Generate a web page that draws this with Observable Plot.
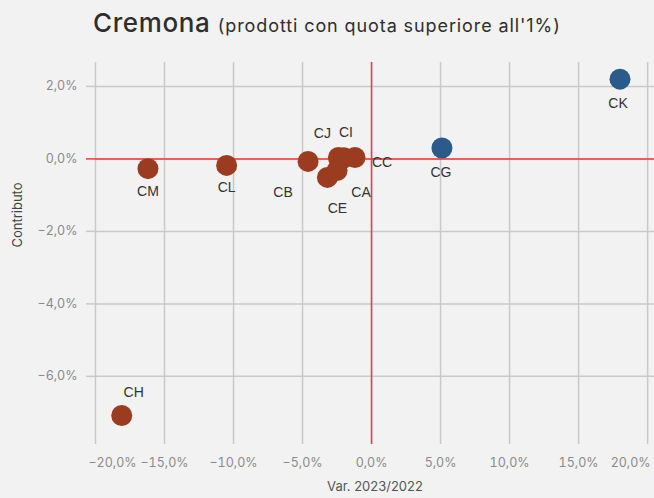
<!DOCTYPE html>
<html>
<head>
<meta charset="utf-8">
<script src="https://cdn.jsdelivr.net/npm/d3@7"></script>
<script src="https://cdn.jsdelivr.net/npm/@observablehq/plot@0.6"></script>
<style>
  html, body { margin: 0; padding: 0; background: #f2f2f2; }
  #wrap { width: 654px; height: 498px; overflow: hidden; background: #f2f2f2; }
  #title { height: 50px; box-sizing: border-box; padding: 7px 0 0 93px; font-family: Inter, "Noto Sans", sans-serif; color: #2e2e2e; white-space: nowrap; }
  #title .main { font-size: 26px; font-weight: 500; letter-spacing: 0.6px; }
  #title .sub { font-size: 18px; font-weight: 400; letter-spacing: 0.9px; margin-left: 3px; }
  svg { display: block; }
</style>
</head>
<body>
<div id="wrap">
  <div id="title"><span class="main">Cremona</span> <span class="sub">(prodotti con quota superiore all'1%)</span></div>
  <div id="chart"></div>
</div>
<script>
// Data (percent units)
const labels = ["CK", "CG", "CM", "CL", "CH", "CB", "CJ", "CI", "CC", "CA", "CE"];
const variazione = [18.0, 5.1, -16.2, -10.5, -18.1, -4.6, -2.4, -2.0, -1.2, -2.5, -3.2];
const contributo = [2.2, 0.3, -0.27, -0.18, -7.08, -0.07, 0.04, 0.03, 0.04, -0.32, -0.51];
const xTicks = [-20, -15, -10, -5, 0, 5, 10, 15, 20];
const yTicks = [-6, -4, -2, 0, 2];

// label placement (pixel offsets), layout only
const labelOffset = {
  CK: [-2, 24], CG: [-1, 24], CM: [0, 23], CL: [0, 22], CH: [12, -23],
  CB: [-25, 31], CJ: [-16, -24], CI: [2, -25], CC: [27, 5], CA: [24, 22], CE: [10, 31]
};

const data = labels.map((l, i) => ({label: l, x: variazione[i], y: contributo[i]}));
const fmt = d => (d < 0 ? "−" : "") + Math.abs(d).toFixed(1).replace(".", ",") + "%";
const brown = "#9b3c20", blue = "#2a5b8b";
const grid = "#c9c9c9", red = "#ff3535", tickText = "#8a8a8a";
const tickFont = "Inter, 'Noto Sans', sans-serif";

const chart = Plot.plot({
  width: 654,
  height: 448,
  marginLeft: 95,
  marginRight: 0,
  marginTop: 12,
  marginBottom: 54,
  style: {background: "#f2f2f2", fontFamily: tickFont},
  x: {domain: [-20, 20.5]},
  y: {domain: [-7.88, 2.66]},
  marks: [
    Plot.gridX(xTicks, {stroke: grid, strokeOpacity: 1, strokeWidth: 1.5}),
    Plot.gridY(yTicks, {stroke: grid, strokeOpacity: 1, strokeWidth: 1.5}),
    Plot.axisY(yTicks.filter(d => d !== 0), {tickSize: 9, tickPadding: 9, tickFormat: fmt, stroke: grid, strokeWidth: 1.5, fill: tickText, fontSize: 12.5, label: null}),
    Plot.axisY([0], {tickSize: 9, tickPadding: 9, tickFormat: fmt, stroke: red, strokeWidth: 1.5, fill: tickText, fontSize: 12.5, label: null}),
    Plot.axisX(xTicks.slice(1, -1), {tickSize: 0, tickPadding: 14, tickFormat: fmt, fill: tickText, fontSize: 12.5, label: null}),
    Plot.axisX([xTicks[0]], {tickSize: 0, tickPadding: 14, tickFormat: fmt, fill: tickText, fontSize: 12.5, textAnchor: "start", dx: -7, label: null}),
    Plot.axisX([xTicks[xTicks.length - 1]], {tickSize: 0, tickPadding: 14, tickFormat: fmt, fill: tickText, fontSize: 12.5, textAnchor: "end", dx: 3, label: null}),
    Plot.ruleX([0], {stroke: red, strokeWidth: 1.5}),
    Plot.ruleY([0], {stroke: red, strokeWidth: 1.5}),
    Plot.text(["Contributo"], {frameAnchor: "left", rotate: -90, dx: -78, dy: -6, fill: "#444", fontSize: 13}),
    Plot.text(["Var. 2023/2022"], {frameAnchor: "bottom", dy: 46, fill: "#555", fontSize: 13}),
    Plot.dot(data, {x: "x", y: "y", r: 10.5, fill: d => d.x > 0 ? blue : brown, stroke: "none"}),
    ...data.map(d => Plot.text([d], {
      x: "x", y: "y", text: "label",
      dx: labelOffset[d.label][0], dy: labelOffset[d.label][1],
      fill: "#333", fontSize: 14, fontFamily: "'Liberation Sans', Arial, sans-serif"
    }))
  ]
});
document.getElementById("chart").appendChild(chart);
</script>
</body>
</html>
